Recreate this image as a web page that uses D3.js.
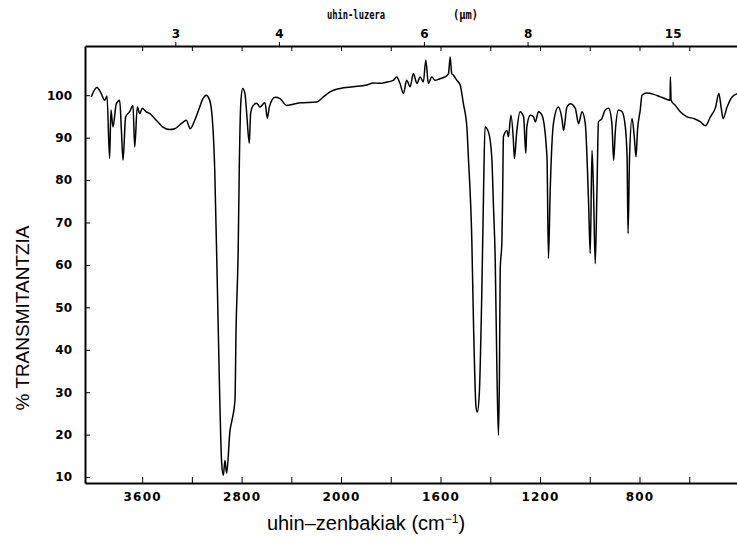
<!DOCTYPE html>
<html lang="eu">
<head>
<meta charset="UTF-8">
<title>IR espektroa</title>
<script src="https://d3js.org/d3.v7.min.js"></script>
<style>
  body { margin: 0; background: #fff; }
  .tick text { font-family: "DejaVu Sans", sans-serif; font-weight: bold; font-size: 12px; fill: #000; }
  .domain, .tick line { stroke: #000; }
</style>
</head>
<body>
<div id="chart"></div>
<script>
// spectrum: wavenumber (cm-1) and % transmittance
const wavenumber = [
  4010, 3964, 3929, 3902, 3883, 3862, 3851, 3835, 3808, 3781,
  3767, 3754, 3733, 3701, 3674, 3660, 3639, 3620, 3599, 3567,
  3540, 3486, 3433, 3379, 3338, 3285, 3245, 3213, 3177, 3137,
  3111, 3084, 3062, 3042, 3016, 2996, 2979, 2960, 2947, 2934,
  2920, 2893, 2877, 2853, 2845, 2827, 2818, 2805, 2791, 2773,
  2759, 2738, 2727, 2706, 2678, 2652, 2612, 2593, 2577, 2531,
  2491, 2437, 2330, 2196, 2142, 2089, 2008, 1951, 1897, 1870,
  1843, 1816, 1790, 1776, 1763, 1749, 1736, 1722, 1709, 1695,
  1682, 1669, 1659, 1649, 1635, 1622, 1602, 1582, 1568, 1561,
  1555, 1548, 1534, 1521, 1508, 1494, 1488, 1474, 1467, 1457,
  1452, 1444, 1434, 1427, 1421, 1407, 1394, 1387, 1380, 1373,
  1367, 1363, 1360, 1353, 1350, 1347, 1333, 1327, 1317, 1307,
  1303, 1293, 1280, 1266, 1257, 1253, 1239, 1226, 1219, 1206,
  1192, 1172, 1166, 1159, 1146, 1126, 1112, 1105, 1092, 1078,
  1058, 1045, 1031, 1018, 1005, 998, 991, 985, 978, 971,
  965, 951, 938, 924, 911, 904, 897, 884, 870, 857,
  850, 846, 840, 830, 821, 814, 808, 797, 790, 770,
  743, 716, 689, 677, 676, 673, 656, 636, 609, 582,
  555, 535, 515, 494, 481, 472, 464, 448, 428, 406
];
const transmittance = [
  99.6, 101.8, 100.4, 98.8, 99.8, 85.1, 96.5, 92.5, 98.0, 98.8,
  91.7, 84.7, 94.9, 96.1, 97.6, 87.8, 97.2, 95.7, 96.9, 96.1,
  95.7, 94.1, 92.5, 91.9, 92.1, 93.3, 94.1, 92.1, 94.1, 97.2,
  99.2, 100.0, 99.2, 96.5, 82.3, 56.4, 32.8, 13.2, 10.4, 13.9,
  10.9, 21.0, 23.4, 28.1, 43.9, 64.2, 84.0, 98.8, 101.6, 100.4,
  95.8, 88.7, 95.8, 97.6, 98.1, 97.2, 98.3, 94.6, 97.2, 99.5,
  99.2, 97.6, 98.2, 98.4, 99.6, 100.8, 101.6, 102.0, 102.4, 102.9,
  102.8, 103.1, 103.5, 104.3, 102.8, 100.4, 103.5, 102.0, 105.1, 102.8,
  104.3, 103.1, 108.3, 102.8, 104.3, 103.5, 103.9, 104.3, 105.1, 109.0,
  105.1, 104.7, 103.5, 102.4, 98.0, 92.5, 85.5, 65.6, 45.3, 26.4,
  25.3, 29.7, 53.3, 76.9, 92.5, 91.3, 85.5, 73.7, 61.1, 34.4,
  19.8, 34.4, 58.7, 65.8, 77.6, 90.2, 91.7, 90.2, 95.3, 89.4,
  85.1, 91.7, 96.1, 94.9, 86.3, 92.5, 95.3, 94.9, 93.7, 96.1,
  95.3, 85.5, 61.5, 77.6, 93.3, 97.2, 94.5, 91.7, 97.2, 98.0,
  96.9, 93.3, 96.1, 93.3, 75.2, 62.7, 87.0, 77.6, 60.3, 77.6,
  93.7, 94.5, 96.5, 96.9, 93.3, 84.7, 91.7, 96.5, 96.1, 92.5,
  85.5, 67.4, 85.5, 94.5, 90.2, 85.5, 91.7, 96.5, 100.0, 100.5,
  100.2, 99.6, 99.0, 98.8, 104.3, 98.8, 97.6, 96.1, 94.9, 94.5,
  93.7, 92.8, 94.9, 97.2, 100.4, 97.2, 94.5, 97.2, 99.6, 100.4
];

// axis ticks
const waveTicks = [3600, 3200, 2800, 2400, 2000, 1800, 1600, 1400, 1200, 1000, 800, 600];
const waveLabels = [3600, 2800, 2000, 1600, 1200, 800];
const micronTicks = [3, 4, 6, 8, 15];
const yTicks = [10, 20, 30, 40, 50, 60, 70, 80, 90, 100];

const width = 737, height = 543;

const svg = d3.select("#chart").append("svg")
    .attr("width", width)
    .attr("height", height);

// the spectrometer paper doubles the scale below 2000 cm-1
const x = d3.scaleLinear()
    .domain([4060, 2000, 400])
    .range([85, 341, 739]);

const y = d3.scaleLinear()
    .domain([8.6, 111.6])
    .range([483, 46]);

// spectrum line
const line = d3.line()
    .x(d => x(d[0]))
    .y(d => y(d[1]))
    .curve(d3.curveMonotoneX);

svg.append("path")
    .datum(d3.zip(wavenumber, transmittance))
    .attr("fill", "none")
    .attr("stroke", "#000")
    .attr("stroke-width", 1.5)
    .attr("stroke-linejoin", "round")
    .attr("d", line);

// left axis, ticks pointing inwards
const yAxis = svg.append("g")
    .attr("transform", `translate(${x.range()[0]},0)`)
    .call(d3.axisLeft(y).tickValues(yTicks).tickSize(-5).tickSizeOuter(0).tickPadding(13));
yAxis.select(".domain").attr("stroke-width", 2);

// bottom axis
const xAxis = svg.append("g")
    .attr("transform", `translate(0,${y.range()[0]})`)
    .call(d3.axisBottom(x).tickValues(waveTicks).tickSize(-6).tickSizeOuter(0).tickPadding(9)
        .tickFormat(d => waveLabels.includes(d) ? d : ""));
xAxis.select(".domain").attr("stroke-width", 2);
xAxis.selectAll(".tick text").attr("letter-spacing", "1.2px");

// top axis: wavenumber ticks downward, wavelength ticks upward
const topY = y.range()[1];
const topAxis = svg.append("g")
    .attr("transform", `translate(0,${topY})`)
    .call(d3.axisTop(x).tickValues(waveTicks).tickSize(-5).tickSizeOuter(0).tickFormat(""));
topAxis.select(".domain").attr("stroke-width", 2);

svg.append("g")
    .attr("transform", `translate(0,${topY})`)
    .call(d3.axisTop(x).tickValues(micronTicks.map(m => 10000 / m)).tickSize(4).tickPadding(4)
        .tickFormat((d, i) => micronTicks[i]))
    .call(g => g.select(".domain").remove());

// titles
svg.append("text")
    .attr("x", 327)
    .attr("y", 19)
    .attr("textLength", 58)
    .attr("lengthAdjust", "spacingAndGlyphs")
    .attr("font-family", "DejaVu Sans Mono, monospace")
    .attr("font-weight", "bold")
    .attr("font-size", 12)
    .text("uhin-luzera");

svg.append("text")
    .attr("x", 453)
    .attr("y", 19)
    .attr("textLength", 25)
    .attr("lengthAdjust", "spacingAndGlyphs")
    .attr("font-family", "DejaVu Sans Mono, monospace")
    .attr("font-weight", "bold")
    .attr("font-size", 12)
    .text("(μm)");

svg.append("text")
    .attr("transform", "translate(29,318) rotate(-90)")
    .attr("text-anchor", "middle")
    .attr("font-family", "Liberation Sans, Arial, sans-serif")
    .attr("font-size", 19)
    .text("% TRANSMITANTZIA");

const xTitle = svg.append("text")
    .attr("x", 366)
    .attr("y", 530)
    .attr("text-anchor", "middle")
    .attr("font-family", "Liberation Sans, Arial, sans-serif")
    .attr("font-size", 20);
xTitle.append("tspan").text("uhin–zenbakiak (cm");
xTitle.append("tspan").attr("font-size", 12).attr("dy", -7).text("−1");
xTitle.append("tspan").attr("dy", 7).text(")");
</script>
</body>
</html>
